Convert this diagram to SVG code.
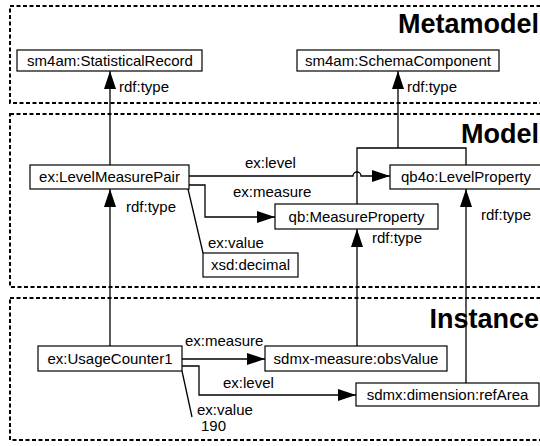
<svg xmlns="http://www.w3.org/2000/svg" width="540" height="446" viewBox="0 0 540 446">
<defs>
<style>
.layer{fill:none;stroke:#000;stroke-width:2;stroke-dasharray:4,2.5}
.title{font-family:"Liberation Sans",Arial,sans-serif;font-weight:bold;font-size:27px;fill:#000;text-anchor:end}
.box{fill:#fff;stroke:#000;stroke-width:1.2}
.lbl{font-family:"Liberation Sans",Arial,sans-serif;font-size:15px;fill:#000}
.mid{text-anchor:middle}
.edge{fill:none;stroke:#000;stroke-width:1.3}
</style>
<marker id="arr" viewBox="0 0 18 12" refX="18" refY="6" markerWidth="18" markerHeight="12" markerUnits="userSpaceOnUse" orient="auto">
<path d="M0,0 L18,6 L0,12 Z" fill="#000"/>
</marker>
</defs>
<rect width="540" height="446" fill="#fff"/>

<g id="layers">
<rect class="layer" x="10" y="6" width="540" height="97"/>
<rect class="layer" x="10" y="114" width="540" height="173"/>
<rect class="layer" x="10" y="298" width="540" height="142"/>
<text class="title" x="539" y="33">Metamodel</text>
<text class="title" x="539" y="143">Model</text>
<text class="title" x="539" y="328">Instance</text>
</g>

<g id="connectors">
<path class="edge" d="M110,165 V71" marker-end="url(#arr)"/>
<text class="lbl" x="119" y="92">rdf:type</text>
<path class="edge" d="M398,148 V71" marker-end="url(#arr)"/>
<text class="lbl" x="407" y="92">rdf:type</text>
<path class="edge" d="M357,204 V148 H466 V165"/>
<path class="edge" d="M189,176 H353 A4,4 0 0 1 361,176 H390" marker-end="url(#arr)"/>
<text class="lbl" x="245" y="168">ex:level</text>
<path class="edge" d="M189,185 H205 V217 H275" marker-end="url(#arr)"/>
<text class="lbl" x="233" y="197">ex:measure</text>
<path class="edge" d="M188,189 L203,253"/>
<text class="lbl" x="208" y="248">ex:value</text>
<path class="edge" d="M110,346 V189" marker-end="url(#arr)"/>
<text class="lbl" x="126" y="212">rdf:type</text>
<path class="edge" d="M357,346 V229" marker-end="url(#arr)"/>
<text class="lbl" x="372" y="243">rdf:type</text>
<path class="edge" d="M466,383 V189" marker-end="url(#arr)"/>
<text class="lbl" x="481" y="220">rdf:type</text>
<path class="edge" d="M182,359 H265" marker-end="url(#arr)"/>
<text class="lbl" x="185" y="346">ex:measure</text>
<path class="edge" d="M182,366 H199 V395 H356" marker-end="url(#arr)"/>
<text class="lbl" x="223" y="388">ex:level</text>
<path class="edge" d="M182,371 L192,417"/>
<text class="lbl" x="197" y="415">ex:value</text>
<text class="lbl" x="201" y="431">190</text>
</g>

<g id="n-statisticalrecord">
<rect class="box" x="17" y="50" width="185" height="21"/>
<text class="lbl mid" x="110" y="66">sm4am:StatisticalRecord</text>
</g>
<g id="n-schemacomponent">
<rect class="box" x="297" y="50" width="202" height="21"/>
<text class="lbl mid" x="398" y="66">sm4am:SchemaComponent</text>
</g>
<g id="n-levelmeasurepair">
<rect class="box" x="30" y="165" width="159" height="24"/>
<text class="lbl mid" x="109.5" y="182">ex:LevelMeasurePair</text>
</g>
<g id="n-levelproperty">
<rect class="box" x="390" y="165" width="160" height="24"/>
<text class="lbl mid" x="466" y="182">qb4o:LevelProperty</text>
</g>
<g id="n-measureproperty">
<rect class="box" x="275" y="204" width="163" height="25"/>
<text class="lbl mid" x="356.5" y="221.5">qb:MeasureProperty</text>
</g>
<g id="n-decimal">
<rect class="box" x="203" y="253" width="95" height="24"/>
<text class="lbl mid" x="250.5" y="270">xsd:decimal</text>
</g>
<g id="n-usagecounter1">
<rect class="box" x="38" y="346" width="144" height="25"/>
<text class="lbl mid" x="110" y="363.5">ex:UsageCounter1</text>
</g>
<g id="n-obsvalue">
<rect class="box" x="265" y="346" width="182" height="25"/>
<text class="lbl mid" x="356" y="363.5">sdmx-measure:obsValue</text>
</g>
<g id="n-refarea">
<rect class="box" x="356" y="383" width="183" height="23"/>
<text class="lbl mid" x="447.5" y="399.5">sdmx:dimension:refArea</text>
</g>
</svg>
